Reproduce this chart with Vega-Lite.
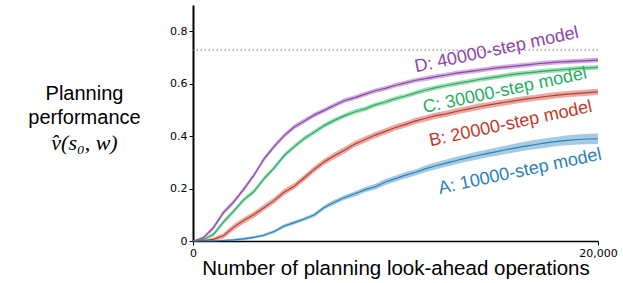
{
  "$schema": "https://vega.github.io/schema/vega-lite/v6.json",
  "width": 405,
  "height": 236,
  "autosize": {"type": "none"},
  "padding": {"left": 193, "top": 5, "right": 25, "bottom": 42},
  "config": {"view": {"stroke": null}, "font": "Liberation Sans"},
  "datasets": {
    "curves": [
      {"m":"D","x":0,"v":0,"lo":0,"hi":0},
      {"m":"D","x":500,"v":0.012,"lo":0.006,"hi":0.018},
      {"m":"D","x":1000,"v":0.05,"lo":0.041,"hi":0.059},
      {"m":"D","x":1500,"v":0.108,"lo":0.099,"hi":0.117},
      {"m":"D","x":2000,"v":0.148,"lo":0.139,"hi":0.157},
      {"m":"D","x":2500,"v":0.197,"lo":0.188,"hi":0.206},
      {"m":"D","x":3000,"v":0.25,"lo":0.241,"hi":0.259},
      {"m":"D","x":3500,"v":0.312,"lo":0.303,"hi":0.321},
      {"m":"D","x":4000,"v":0.36,"lo":0.351,"hi":0.369},
      {"m":"D","x":4500,"v":0.402,"lo":0.393,"hi":0.411},
      {"m":"D","x":5000,"v":0.435,"lo":0.426,"hi":0.444},
      {"m":"D","x":5500,"v":0.458,"lo":0.449,"hi":0.467},
      {"m":"D","x":6000,"v":0.481,"lo":0.472,"hi":0.49},
      {"m":"D","x":6500,"v":0.499,"lo":0.49,"hi":0.508},
      {"m":"D","x":7000,"v":0.518,"lo":0.509,"hi":0.527},
      {"m":"D","x":7500,"v":0.536,"lo":0.527,"hi":0.545},
      {"m":"D","x":8000,"v":0.547,"lo":0.538,"hi":0.556},
      {"m":"D","x":8500,"v":0.56,"lo":0.551,"hi":0.569},
      {"m":"D","x":9000,"v":0.573,"lo":0.564,"hi":0.582},
      {"m":"D","x":9500,"v":0.582,"lo":0.573,"hi":0.591},
      {"m":"D","x":10000,"v":0.594,"lo":0.585,"hi":0.603},
      {"m":"D","x":10500,"v":0.603,"lo":0.594,"hi":0.612},
      {"m":"D","x":11000,"v":0.613,"lo":0.604,"hi":0.622},
      {"m":"D","x":11500,"v":0.619,"lo":0.61,"hi":0.628},
      {"m":"D","x":12000,"v":0.627,"lo":0.618,"hi":0.636},
      {"m":"D","x":12500,"v":0.633,"lo":0.624,"hi":0.642},
      {"m":"D","x":13000,"v":0.64,"lo":0.631,"hi":0.649},
      {"m":"D","x":13500,"v":0.645,"lo":0.636,"hi":0.654},
      {"m":"D","x":14000,"v":0.65,"lo":0.641,"hi":0.659},
      {"m":"D","x":14500,"v":0.655,"lo":0.646,"hi":0.664},
      {"m":"D","x":15000,"v":0.66,"lo":0.651,"hi":0.669},
      {"m":"D","x":15500,"v":0.664,"lo":0.655,"hi":0.673},
      {"m":"D","x":16000,"v":0.668,"lo":0.659,"hi":0.677},
      {"m":"D","x":16500,"v":0.672,"lo":0.663,"hi":0.681},
      {"m":"D","x":17000,"v":0.676,"lo":0.667,"hi":0.685},
      {"m":"D","x":17500,"v":0.679,"lo":0.67,"hi":0.688},
      {"m":"D","x":18000,"v":0.682,"lo":0.673,"hi":0.691},
      {"m":"D","x":18500,"v":0.684,"lo":0.675,"hi":0.693},
      {"m":"D","x":19000,"v":0.686,"lo":0.677,"hi":0.695},
      {"m":"D","x":19500,"v":0.688,"lo":0.679,"hi":0.697},
      {"m":"D","x":20000,"v":0.69,"lo":0.681,"hi":0.699},

      {"m":"C","x":0,"v":0,"lo":0,"hi":0},
      {"m":"C","x":500,"v":0.006,"lo":0.002,"hi":0.01},
      {"m":"C","x":1000,"v":0.024,"lo":0.016,"hi":0.032},
      {"m":"C","x":1500,"v":0.072,"lo":0.063,"hi":0.081},
      {"m":"C","x":2000,"v":0.113,"lo":0.104,"hi":0.122},
      {"m":"C","x":2500,"v":0.157,"lo":0.148,"hi":0.166},
      {"m":"C","x":3000,"v":0.188,"lo":0.179,"hi":0.197},
      {"m":"C","x":3500,"v":0.237,"lo":0.228,"hi":0.246},
      {"m":"C","x":4000,"v":0.278,"lo":0.269,"hi":0.287},
      {"m":"C","x":4500,"v":0.326,"lo":0.317,"hi":0.335},
      {"m":"C","x":5000,"v":0.36,"lo":0.351,"hi":0.369},
      {"m":"C","x":5500,"v":0.391,"lo":0.382,"hi":0.4},
      {"m":"C","x":6000,"v":0.416,"lo":0.407,"hi":0.425},
      {"m":"C","x":6500,"v":0.441,"lo":0.432,"hi":0.45},
      {"m":"C","x":7000,"v":0.461,"lo":0.452,"hi":0.47},
      {"m":"C","x":7500,"v":0.478,"lo":0.469,"hi":0.487},
      {"m":"C","x":8000,"v":0.493,"lo":0.484,"hi":0.502},
      {"m":"C","x":8500,"v":0.504,"lo":0.495,"hi":0.513},
      {"m":"C","x":9000,"v":0.519,"lo":0.51,"hi":0.528},
      {"m":"C","x":9500,"v":0.53,"lo":0.521,"hi":0.539},
      {"m":"C","x":10000,"v":0.543,"lo":0.534,"hi":0.552},
      {"m":"C","x":10500,"v":0.553,"lo":0.544,"hi":0.562},
      {"m":"C","x":11000,"v":0.565,"lo":0.556,"hi":0.574},
      {"m":"C","x":11500,"v":0.576,"lo":0.567,"hi":0.585},
      {"m":"C","x":12000,"v":0.585,"lo":0.576,"hi":0.594},
      {"m":"C","x":12500,"v":0.593,"lo":0.584,"hi":0.602},
      {"m":"C","x":13000,"v":0.6,"lo":0.591,"hi":0.609},
      {"m":"C","x":13500,"v":0.607,"lo":0.598,"hi":0.616},
      {"m":"C","x":14000,"v":0.614,"lo":0.605,"hi":0.623},
      {"m":"C","x":14500,"v":0.62,"lo":0.611,"hi":0.629},
      {"m":"C","x":15000,"v":0.626,"lo":0.617,"hi":0.635},
      {"m":"C","x":15500,"v":0.632,"lo":0.623,"hi":0.641},
      {"m":"C","x":16000,"v":0.637,"lo":0.628,"hi":0.646},
      {"m":"C","x":16500,"v":0.641,"lo":0.632,"hi":0.65},
      {"m":"C","x":17000,"v":0.645,"lo":0.636,"hi":0.654},
      {"m":"C","x":17500,"v":0.649,"lo":0.64,"hi":0.658},
      {"m":"C","x":18000,"v":0.652,"lo":0.643,"hi":0.661},
      {"m":"C","x":18500,"v":0.655,"lo":0.646,"hi":0.664},
      {"m":"C","x":19000,"v":0.658,"lo":0.649,"hi":0.667},
      {"m":"C","x":19500,"v":0.66,"lo":0.651,"hi":0.669},
      {"m":"C","x":20000,"v":0.662,"lo":0.653,"hi":0.671},

      {"m":"B","x":0,"v":0,"lo":0,"hi":0},
      {"m":"B","x":500,"v":0.002,"lo":0,"hi":0.004},
      {"m":"B","x":1000,"v":0.006,"lo":0,"hi":0.012},
      {"m":"B","x":1500,"v":0.02,"lo":0.01,"hi":0.03},
      {"m":"B","x":2000,"v":0.052,"lo":0.04,"hi":0.064},
      {"m":"B","x":2500,"v":0.078,"lo":0.066,"hi":0.09},
      {"m":"B","x":3000,"v":0.1,"lo":0.088,"hi":0.112},
      {"m":"B","x":3500,"v":0.127,"lo":0.115,"hi":0.139},
      {"m":"B","x":4000,"v":0.154,"lo":0.142,"hi":0.166},
      {"m":"B","x":4500,"v":0.186,"lo":0.174,"hi":0.198},
      {"m":"B","x":5000,"v":0.209,"lo":0.197,"hi":0.221},
      {"m":"B","x":5500,"v":0.241,"lo":0.229,"hi":0.253},
      {"m":"B","x":6000,"v":0.274,"lo":0.262,"hi":0.286},
      {"m":"B","x":6500,"v":0.303,"lo":0.291,"hi":0.315},
      {"m":"B","x":7000,"v":0.326,"lo":0.314,"hi":0.338},
      {"m":"B","x":7500,"v":0.347,"lo":0.335,"hi":0.359},
      {"m":"B","x":8000,"v":0.37,"lo":0.358,"hi":0.382},
      {"m":"B","x":8500,"v":0.387,"lo":0.375,"hi":0.399},
      {"m":"B","x":9000,"v":0.404,"lo":0.392,"hi":0.416},
      {"m":"B","x":9500,"v":0.418,"lo":0.406,"hi":0.43},
      {"m":"B","x":10000,"v":0.433,"lo":0.421,"hi":0.445},
      {"m":"B","x":10500,"v":0.445,"lo":0.433,"hi":0.457},
      {"m":"B","x":11000,"v":0.458,"lo":0.446,"hi":0.47},
      {"m":"B","x":11500,"v":0.468,"lo":0.456,"hi":0.48},
      {"m":"B","x":12000,"v":0.478,"lo":0.466,"hi":0.49},
      {"m":"B","x":12500,"v":0.485,"lo":0.473,"hi":0.497},
      {"m":"B","x":13000,"v":0.494,"lo":0.482,"hi":0.506},
      {"m":"B","x":13500,"v":0.502,"lo":0.49,"hi":0.514},
      {"m":"B","x":14000,"v":0.51,"lo":0.498,"hi":0.522},
      {"m":"B","x":14500,"v":0.517,"lo":0.505,"hi":0.529},
      {"m":"B","x":15000,"v":0.524,"lo":0.512,"hi":0.536},
      {"m":"B","x":15500,"v":0.53,"lo":0.518,"hi":0.542},
      {"m":"B","x":16000,"v":0.536,"lo":0.524,"hi":0.548},
      {"m":"B","x":16500,"v":0.542,"lo":0.53,"hi":0.554},
      {"m":"B","x":17000,"v":0.547,"lo":0.535,"hi":0.559},
      {"m":"B","x":17500,"v":0.552,"lo":0.54,"hi":0.564},
      {"m":"B","x":18000,"v":0.556,"lo":0.544,"hi":0.568},
      {"m":"B","x":18500,"v":0.56,"lo":0.548,"hi":0.572},
      {"m":"B","x":19000,"v":0.563,"lo":0.551,"hi":0.575},
      {"m":"B","x":19500,"v":0.566,"lo":0.554,"hi":0.578},
      {"m":"B","x":20000,"v":0.569,"lo":0.557,"hi":0.581},

      {"m":"A","x":0,"v":0,"lo":0,"hi":0},
      {"m":"A","x":500,"v":0,"lo":0,"hi":0.002},
      {"m":"A","x":1000,"v":0,"lo":0,"hi":0.003},
      {"m":"A","x":1500,"v":0.002,"lo":0,"hi":0.006},
      {"m":"A","x":2000,"v":0.004,"lo":0,"hi":0.009},
      {"m":"A","x":2500,"v":0.008,"lo":0.003,"hi":0.013},
      {"m":"A","x":3000,"v":0.014,"lo":0.009,"hi":0.019},
      {"m":"A","x":3500,"v":0.022,"lo":0.016,"hi":0.028},
      {"m":"A","x":4000,"v":0.036,"lo":0.03,"hi":0.042},
      {"m":"A","x":4500,"v":0.057,"lo":0.05,"hi":0.064},
      {"m":"A","x":5000,"v":0.07,"lo":0.063,"hi":0.077},
      {"m":"A","x":5500,"v":0.084,"lo":0.077,"hi":0.091},
      {"m":"A","x":6000,"v":0.1,"lo":0.092,"hi":0.108},
      {"m":"A","x":6500,"v":0.129,"lo":0.121,"hi":0.137},
      {"m":"A","x":7000,"v":0.149,"lo":0.14,"hi":0.158},
      {"m":"A","x":7500,"v":0.166,"lo":0.157,"hi":0.175},
      {"m":"A","x":8000,"v":0.18,"lo":0.17,"hi":0.19},
      {"m":"A","x":8500,"v":0.196,"lo":0.186,"hi":0.206},
      {"m":"A","x":9000,"v":0.207,"lo":0.196,"hi":0.218},
      {"m":"A","x":9500,"v":0.225,"lo":0.214,"hi":0.236},
      {"m":"A","x":10000,"v":0.238,"lo":0.226,"hi":0.25},
      {"m":"A","x":10500,"v":0.251,"lo":0.239,"hi":0.263},
      {"m":"A","x":11000,"v":0.262,"lo":0.25,"hi":0.274},
      {"m":"A","x":11500,"v":0.276,"lo":0.263,"hi":0.289},
      {"m":"A","x":12000,"v":0.287,"lo":0.274,"hi":0.3},
      {"m":"A","x":12500,"v":0.297,"lo":0.283,"hi":0.311},
      {"m":"A","x":13000,"v":0.307,"lo":0.293,"hi":0.321},
      {"m":"A","x":13500,"v":0.316,"lo":0.302,"hi":0.33},
      {"m":"A","x":14000,"v":0.325,"lo":0.31,"hi":0.34},
      {"m":"A","x":14500,"v":0.333,"lo":0.318,"hi":0.348},
      {"m":"A","x":15000,"v":0.341,"lo":0.325,"hi":0.357},
      {"m":"A","x":15500,"v":0.349,"lo":0.333,"hi":0.365},
      {"m":"A","x":16000,"v":0.356,"lo":0.339,"hi":0.373},
      {"m":"A","x":16500,"v":0.363,"lo":0.346,"hi":0.38},
      {"m":"A","x":17000,"v":0.369,"lo":0.351,"hi":0.387},
      {"m":"A","x":17500,"v":0.375,"lo":0.357,"hi":0.393},
      {"m":"A","x":18000,"v":0.38,"lo":0.362,"hi":0.398},
      {"m":"A","x":18500,"v":0.384,"lo":0.365,"hi":0.403},
      {"m":"A","x":19000,"v":0.387,"lo":0.368,"hi":0.406},
      {"m":"A","x":19500,"v":0.389,"lo":0.369,"hi":0.409},
      {"m":"A","x":20000,"v":0.39,"lo":0.37,"hi":0.41}
    ],
    "labels": [
      {"m":"D","label":"D: 40000-step model","x":15000,"y":0.728},
      {"m":"C","label":"C: 30000-step model","x":15400,"y":0.573},
      {"m":"B","label":"B: 20000-step model","x":15690,"y":0.446},
      {"m":"A","label":"A: 10000-step model","x":16150,"y":0.264}
    ],
    "ref": [{"y": 0.728}]
  },
  "layer": [
    {
      "layer": [
        {
          "data": {"name": "curves"},
          "mark": {"type": "area", "opacity": 0.42},
          "encoding": {
            "x": {"field": "x", "type": "quantitative", "scale": {"domain": [0, 20000]},
              "axis": {"values": [0, 20000], "labelExpr": "datum.value == 0 ? '0' : '20,000'", "title": "Number of planning look-ahead operations",
                "titleFontSize": 20.5, "titleFont": "Liberation Sans", "titleFontWeight": "normal", "titleColor": "#000",
                "titleBaseline": "alphabetic", "titleY": 33, "grid": false, "domainColor": "#000", "domainWidth": 1.5,
                "tickColor": "#000", "tickSize": 4, "labelFont": "DejaVu Sans", "labelFontSize": 11, "labelColor": "#000",
                "labelPadding": 2, "labelFlush": false}},
            "y": {"field": "lo", "type": "quantitative", "scale": {"domain": [0, 0.9]},
              "axis": {"title": ["Planning", "performance"], "titleAngle": 0, "titleAlign": "center",
                "titleBaseline": "alphabetic", "titleX": -109, "titleY": 94, "titleFontSize": 20,
                "titleFont": "Liberation Sans", "titleFontWeight": "normal", "titleColor": "#000", "titleLineHeight": 24,
                "values": [0, 0.2, 0.4, 0.6, 0.8], "format": "~g", "grid": false, "domainColor": "#000", "domainWidth": 2,
                "tickColor": "#000", "tickSize": 4, "labelFont": "DejaVu Sans", "labelFontSize": 11, "labelColor": "#000",
                "labelPadding": 2}},
            "y2": {"field": "hi"},
            "color": {"field": "m", "type": "nominal",
              "scale": {"domain": ["A", "B", "C", "D"], "range": ["#2980b9", "#c0392b", "#27ae60", "#8e44ad"]},
              "legend": null}
          }
        },
        {
          "data": {"name": "curves"},
          "mark": {"type": "line", "strokeWidth": 1.2},
          "encoding": {
            "x": {"field": "x", "type": "quantitative"},
            "y": {"field": "v", "type": "quantitative"},
            "color": {"field": "m", "type": "nominal", "legend": null}
          }
        },
        {
          "data": {"name": "ref"},
          "mark": {"type": "rule", "strokeDash": [1.5, 2.5], "color": "#777", "strokeWidth": 1},
          "encoding": {"y": {"field": "y", "type": "quantitative"}}
        }
      ]
    },
    {
      "data": {"name": "labels"},
      "mark": {"type": "text", "angle": 348, "fontSize": 18, "font": "Liberation Sans", "align": "center", "baseline": "middle"},
      "encoding": {
        "x": {"field": "x", "type": "quantitative",
          "axis": {"values": [0, 20000], "labelExpr": "datum.value == 0 ? '0' : '20,000'", "labelFlush": false}},
        "y": {"field": "y", "type": "quantitative", "scale": {"domain": [0, 0.9]},
          "axis": {"orient": "left", "title": "v̂(s₀, w)", "domain": false, "ticks": false, "labels": false, "grid": false,
            "titleAngle": 0, "titleAlign": "center", "titleBaseline": "alphabetic", "titleX": -109, "titleY": 144,
            "titleFont": "Liberation Serif", "titleFontStyle": "italic", "titleFontSize": 22, "titleFontWeight": "normal",
            "titleColor": "#000"}},
        "text": {"field": "label"},
        "color": {"field": "m", "type": "nominal", "legend": null}
      }
    }
  ],
  "resolve": {"scale": {"y": "independent"}}
}
